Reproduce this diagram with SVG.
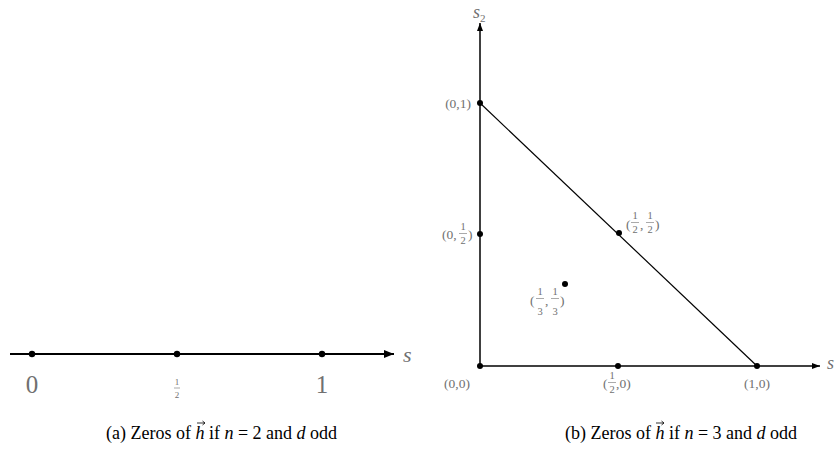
<svg xmlns="http://www.w3.org/2000/svg" width="837" height="454" viewBox="0 0 837 454">
<style>
.ax{stroke:#000;fill:none}
.dot{fill:#000}
.lbl{font-family:"Liberation Serif",serif;fill:#707070}
.cap{font-family:"Liberation Serif",serif;fill:#000;font-size:18px}
.it{font-style:italic}
.fb{stroke:#707070;stroke-width:0.6}
</style>
<defs>
<marker id="ah" viewBox="0 0 10 8" refX="10" refY="4" markerWidth="10" markerHeight="8" markerUnits="userSpaceOnUse" orient="auto">
<path d="M0,0 L10,4 L0,8 Z" fill="#000"/>
</marker>
<marker id="ah2" viewBox="0 0 8 6" refX="8" refY="3" markerWidth="8" markerHeight="6" markerUnits="userSpaceOnUse" orient="auto">
<path d="M0,0 L8,3 L0,6 Z" fill="#000"/>
</marker>
</defs>
<g id="connectors">
<line class="ax" x1="10" y1="354" x2="394" y2="354" stroke-width="2" marker-end="url(#ah)"/>
<line class="ax" x1="480" y1="366" x2="480" y2="23" stroke-width="1.5" marker-end="url(#ah2)"/>
<line class="ax" x1="480" y1="366" x2="820" y2="366" stroke-width="1.5" marker-end="url(#ah2)"/>
<line class="ax" x1="480" y1="103" x2="757" y2="366" stroke-width="1.2"/>
</g>
<g id="panel-a">
<text class="lbl it" x="403" y="362" font-size="22">s</text>
<g id="a0"><circle class="dot" cx="32" cy="354" r="3.2"/><text class="lbl" x="32" y="393" font-size="25" text-anchor="middle">0</text></g>
<g id="ahalf"><circle class="dot" cx="177" cy="354" r="3.2"/>
<text class="lbl" x="177" y="385" font-size="9" text-anchor="middle">1</text>
<line class="fb" x1="174" y1="388" x2="180" y2="388"/>
<text class="lbl" x="177" y="398" font-size="9" text-anchor="middle">2</text></g>
<g id="a1"><circle class="dot" cx="322" cy="354" r="3.2"/><text class="lbl" x="322" y="393" font-size="25" text-anchor="middle">1</text></g>
</g>
<g id="panel-b">
<text class="lbl it" x="473" y="18" font-size="18">s<tspan font-size="11" dy="4" font-style="normal">2</tspan></text>
<text class="lbl it" x="827" y="369" font-size="18">s</text>
<g id="p01"><circle class="dot" cx="480" cy="103" r="3"/><text class="lbl" x="471" y="107.5" font-size="13.5" text-anchor="end">(0,1)</text></g>
<g id="p0h"><circle class="dot" cx="480" cy="234" r="3"/>
<text class="lbl" x="442" y="238.5" font-size="13.5">(0,</text>
<text class="lbl" x="463" y="230" font-size="10.5" text-anchor="middle">1</text>
<line class="fb" x1="459" y1="233.5" x2="467" y2="233.5"/>
<text class="lbl" x="463" y="243.5" font-size="10.5" text-anchor="middle">2</text>
<text class="lbl" x="468" y="238.5" font-size="13.5">)</text></g>
<g id="p00"><circle class="dot" cx="480" cy="366" r="3"/><text class="lbl" x="457" y="388" font-size="13.5" text-anchor="middle">(0,0)</text></g>
<g id="ph0"><circle class="dot" cx="618" cy="366" r="3"/>
<text class="lbl" x="603" y="388" font-size="13.5">(</text>
<text class="lbl" x="612" y="379" font-size="10.5" text-anchor="middle">1</text>
<line class="fb" x1="608" y1="382.5" x2="616" y2="382.5"/>
<text class="lbl" x="612" y="393" font-size="10.5" text-anchor="middle">2</text>
<text class="lbl" x="616" y="388" font-size="13.5">,0)</text></g>
<g id="p10"><circle class="dot" cx="757" cy="366" r="3"/><text class="lbl" x="757" y="388" font-size="13.5" text-anchor="middle">(1,0)</text></g>
<g id="phh"><circle class="dot" cx="619" cy="233" r="3"/>
<text class="lbl" x="626" y="229" font-size="13.5">(</text>
<text class="lbl" x="635" y="219" font-size="10.5" text-anchor="middle">1</text>
<line class="fb" x1="631" y1="222.5" x2="639" y2="222.5"/>
<text class="lbl" x="635" y="233" font-size="10.5" text-anchor="middle">2</text>
<text class="lbl" x="640" y="229" font-size="13.5">,</text>
<text class="lbl" x="650" y="219" font-size="10.5" text-anchor="middle">1</text>
<line class="fb" x1="646" y1="222.5" x2="654" y2="222.5"/>
<text class="lbl" x="650" y="233" font-size="10.5" text-anchor="middle">2</text>
<text class="lbl" x="655" y="229" font-size="13.5">)</text></g>
<g id="p33"><circle class="dot" cx="565" cy="284" r="3"/>
<text class="lbl" x="530" y="305" font-size="13.5">(</text>
<text class="lbl" x="540" y="295" font-size="10.5" text-anchor="middle">1</text>
<line class="fb" x1="536" y1="298.5" x2="544" y2="298.5"/>
<text class="lbl" x="540" y="315" font-size="10.5" text-anchor="middle">3</text>
<text class="lbl" x="545" y="305" font-size="13.5">,</text>
<text class="lbl" x="555" y="295" font-size="10.5" text-anchor="middle">1</text>
<line class="fb" x1="551" y1="298.5" x2="559" y2="298.5"/>
<text class="lbl" x="555" y="315" font-size="10.5" text-anchor="middle">3</text>
<text class="lbl" x="560" y="305" font-size="13.5">)</text></g>
</g>
<g id="captions">
<text class="cap" x="106" y="439">(a) Zeros of <tspan class="it">h</tspan> if <tspan class="it">n</tspan> = 2 and <tspan class="it">d</tspan> odd</text>
<text class="cap" x="565" y="439">(b) Zeros of <tspan class="it">h</tspan> if <tspan class="it">n</tspan> = 3 and <tspan class="it">d</tspan> odd</text>
<g id="vec-arrows" stroke="#000" stroke-width="0.8" fill="none">
<path d="M197,423 L205,423 M202.5,421 L205,423 L202.5,425"/>
<path d="M656,423 L664,423 M661.5,421 L664,423 L661.5,425"/>
</g>
</g>
</svg>
